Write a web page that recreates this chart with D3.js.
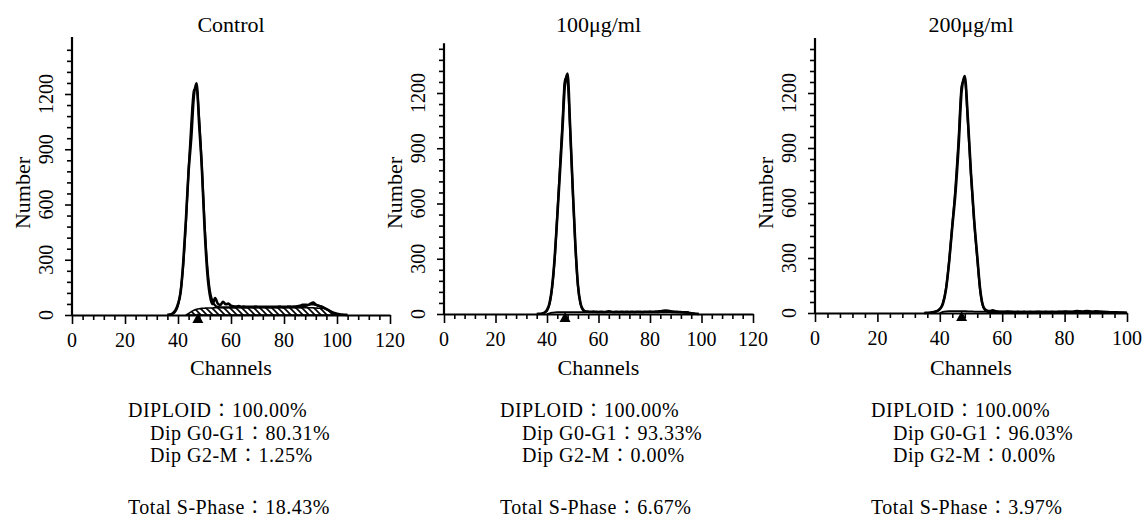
<!DOCTYPE html>
<html><head><meta charset="utf-8">
<script src="https://cdn.jsdelivr.net/npm/d3@7"></script>
<style>
html,body{margin:0;padding:0;background:#fff;}
svg{display:block;}
</style></head><body>
<svg id="chart" width="1144" height="518"></svg>
<script>
// ---- DNA content histograms (flow cytometry), one panel per treatment ----
const panelTitles = ["Control", "100μg/ml", "200μg/ml"];
const channelMax = [120, 120, 100];
const yTickLabels = [0, 300, 600, 900, 1200];

// measured histograms (counts per channel), first channel given in measuredStart
const measuredStart = [36, 36, 35];
const controlMeasured = [
  1,
  3,10,25,60,125,290,520,780,960,1190,
  1258,1030,800,480,240,110,60,92,62,55,
  72,58,62,50,47,46,48,45,46,44,
  45,44,46,45,44,45,44,45,44,45,
  44,46,45,44,45,46,45,46,47,50,
  55,56,54,62,67,56,50,46,40,32,
  24,17,11,7,4,2,1,0];
const dose100Measured = [
  0,1,2,8,22,60,150,310,530,760,
  1000,1250,1305,1010,680,380,160,58,24,14,
  13,12,13,12,11,12,11,12,14,12,
  11,12,11,12,11,12,11,12,11,12,
  12,11,12,12,13,12,13,14,15,17,
  19,18,15,13,12,11,10,9,7,5,
  3,2,1,0];
const dose200Measured = [
  0,1,2,5,10,22,50,130,280,470,
  650,900,1210,1292,1060,760,510,310,120,32,
  14,10,15,9,7,6,7,8,6,5,
  6,5,6,5,6,5,6,6,5,6,
  5,6,5,6,6,8,7,6,8,10,
  9,8,10,9,7,9,8,6,5,5,
  4,4,3,2,2,1];

// fitted model (G0-G1 + S + G2-M)
const fitStart = [36, 38, 37];
const controlFit = [
  0,2,6,20,52,130,275,505,790,1040,
  1220,1232,1065,805,505,275,135,75,52,44,
  42,42,41,42,42,41,42,42,42,41,
  42,42,42,41,42,42,42,42,41,42,
  42,42,42,42,41,42,42,42,42,42,
  42,44,48,53,57,58,55,51,46,40,
  33,25,16,8,3,0];
const dose100Fit = [
  1,6,18,55,145,300,540,790,1040,1275,
  1255,1000,670,372,155,55,20,12,11,10,
  10,10,10,10,10,10,10,10,10,10,
  10,10,10,10,10,10,10,10,10,10,
  10,10,10,10,10,10,11,11,11,11,
  11,10,10,10,10,10,10,8,5,2,
  0];
const dose200Fit = [
  1,4,9,20,55,135,285,480,680,940,
  1240,1275,1040,750,500,298,115,30,10,6,
  6,6,6,6,6,6,6,6,6,6,
  6,6,6,6,6,6,6,6,6,6,
  6,6,6,6,6,6,6,6,6,6,
  6,6,6,6,6,6,6,5,5,4,
  3,2,1,0];

// S-phase component of the model
const sPhaseStart = [43, 40, 40];
const controlSPhase = [
  0,8,18,26,31,34,36,37,38,38,
  38,39,39,39,39,39,39,39,40,40,
  40,40,40,40,40,40,40,40,40,40,
  40,40,40,40,40,40,40,40,40,40,
  40,40,40,40,40,39,39,39,39,38,
  37,36,35,31,24,15,8,3,0];
const dose100SPhase = [
  0,4,7,9,10,10,10,10,10,10,
  10,10,10,10,10,10,10,10,10,10,
  10,10,10,10,10,10,10,10,10,10,
  10,10,10,10,10,10,10,10,10,10,
  10,10,10,10,10,10,10,10,10,10,
  10,10,10,10,10,8,5,2,0];
const dose200SPhase = [
  0,6,9,10,10,10,10,10,10,9,
  9,8,8,7,7,7,6,6,6,6,
  6,6,6,6,6,6,6,6,6,6,
  6,6,6,6,6,6,6,6,6,6,
  6,6,6,6,6,6,6,6,6,6,
  6,6,6,6,5,4,3,2,0];
const sPhaseHatched = [true, false, false];

// G0-G1 peak position marker
const g1Channel = [47.5, 47, 47];

// cell cycle results
const diploidPct = ["100.00%", "100.00%", "100.00%"];
const g0g1Pct = ["80.31%", "93.33%", "96.03%"];
const g2mPct = ["1.25%", "0.00%", "0.00%"];
const sPhasePct = ["18.43%", "6.67%", "3.97%"];

const measured = [controlMeasured, dose100Measured, dose200Measured];
const fits = [controlFit, dose100Fit, dose200Fit];
const sPhases = [controlSPhase, dose100SPhase, dose200SPhase];

// ---- layout ----
const FONT = "Liberation Serif, Times New Roman, DejaVu Serif, Noto Serif CJK JP, Noto Sans CJK JP, serif";
const frames = [
  {left: 72, right: 390, base: 315, top1200: 94, axisTop: 1510},
  {left: 444, right: 753, base: 314, top1200: 93, axisTop: 1470},
  {left: 815, right: 1127, base: 313, top1200: 93, axisTop: 1500}
];

const svg = d3.select("#chart").attr("font-family", FONT);
svg.append("rect").attr("width", 1144).attr("height", 518).attr("fill", "#fff");

const pat = svg.append("defs").append("pattern")
  .attr("id", "hatch").attr("patternUnits", "userSpaceOnUse")
  .attr("width", 6).attr("height", 6);
pat.append("path")
  .attr("d", "M-1,-1 L7,7 M-1,5 L1,7 M5,-1 L7,1")
  .attr("stroke", "#000").attr("stroke-width", 1.6);

const toPoints = (arr, start) => arr.map((v, i) => [start + i, v]);

function label(g, txt, size) {
  return g.append("text").attr("font-family", FONT).attr("font-size", size)
    .attr("fill", "#000").text(txt);
}

frames.forEach((f, i) => {
  const x = d3.scaleLinear().domain([0, channelMax[i]]).range([f.left, f.right]);
  const y = d3.scaleLinear().domain([0, 1200]).range([f.base, f.top1200]);
  const g = svg.append("g");

  const line = d3.line().x(d => x(d[0])).y(d => y(d[1])).curve(d3.curveMonotoneX);
  const area = d3.area().x(d => x(d[0])).y0(y(0)).y1(d => y(d[1])).curve(d3.curveMonotoneX);

  // S-phase component
  const sPts = toPoints(sPhases[i], sPhaseStart[i]);
  if (sPhaseHatched[i]) {
    g.append("path").datum(sPts).attr("d", area)
      .attr("fill", "url(#hatch)").attr("stroke", "#000").attr("stroke-width", 1.6);
  } else {
    g.append("path").datum(sPts).attr("d", line)
      .attr("fill", "none").attr("stroke", "#000").attr("stroke-width", 1.8);
  }

  // model fit and measured histogram
  g.append("path").datum(toPoints(fits[i], fitStart[i])).attr("d", line)
    .attr("fill", "none").attr("stroke", "#000").attr("stroke-width", 2.2)
    .attr("stroke-linejoin", "round");
  g.append("path").datum(toPoints(measured[i], measuredStart[i])).attr("d", line)
    .attr("fill", "none").attr("stroke", "#000").attr("stroke-width", 2.6)
    .attr("stroke-linejoin", "round");

  // y axis
  const yAxis = d3.axisLeft(y).tickValues(d3.range(0, 1441, 60))
    .tickSize(5).tickSizeOuter(0).tickFormat("");
  const ya = g.append("g").attr("transform", `translate(${f.left},0)`).call(yAxis);
  ya.select(".domain").remove();
  ya.selectAll(".tick line").attr("x2", d => d % 300 === 0 ? -7 : -5)
    .attr("stroke", "#000").attr("stroke-width", 1.6);
  g.append("line").attr("x1", f.left).attr("x2", f.left)
    .attr("y1", y(0) + 1).attr("y2", y(f.axisTop))
    .attr("stroke", "#000").attr("stroke-width", 2.2);

  yTickLabels.forEach(v => {
    label(g, v, 20)
      .attr("transform", `translate(${f.left - 19},${y(v)}) rotate(-90)`)
      .attr("text-anchor", "middle");
  });

  // x axis
  const xAxis = d3.axisBottom(x).tickValues(d3.range(0, channelMax[i] + 1, 4))
    .tickSize(5).tickSizeOuter(0).tickFormat("");
  const xa = g.append("g").attr("transform", `translate(0,${f.base})`).call(xAxis);
  xa.select(".domain").attr("stroke", "#000").attr("stroke-width", 2.2);
  xa.selectAll(".tick line").attr("y2", d => d % 20 === 0 ? 9 : 5)
    .attr("stroke", "#000").attr("stroke-width", 1.6);

  d3.range(0, channelMax[i] + 1, 20).forEach(v => {
    label(g, v, 20).attr("x", x(v)).attr("y", f.base + 32).attr("text-anchor", "middle");
  });

  // G0-G1 marker
  const mx = x(g1Channel[i]);
  g.append("path")
    .attr("d", `M${mx},${f.base - 2} L${mx - 5.5},${f.base + 8} L${mx + 5.5},${f.base + 8} Z`)
    .attr("fill", "#000");

  // titles
  label(g, panelTitles[i], 22).attr("x", (f.left + f.right) / 2).attr("y", 32)
    .attr("text-anchor", "middle");
  label(g, "Channels", 22).attr("x", (f.left + f.right) / 2).attr("y", 375)
    .attr("text-anchor", "middle");
  label(g, "Number", 22).attr("transform", `translate(${f.left - 42},193) rotate(-90)`)
    .attr("text-anchor", "middle");

  // results
  const tx = f.left + 56;
  const stat = (txt, dx, yy) => label(g, txt, 20).attr("x", tx + dx).attr("y", yy)
    .attr("letter-spacing", 0.5);
  stat("DIPLOID：" + diploidPct[i], 0, 417);
  stat("Dip G0-G1：" + g0g1Pct[i], 22, 439.5);
  stat("Dip G2-M：" + g2mPct[i], 22, 462);
  stat("Total S-Phase：" + sPhasePct[i], 0, 514);
});
</script></body></html>
